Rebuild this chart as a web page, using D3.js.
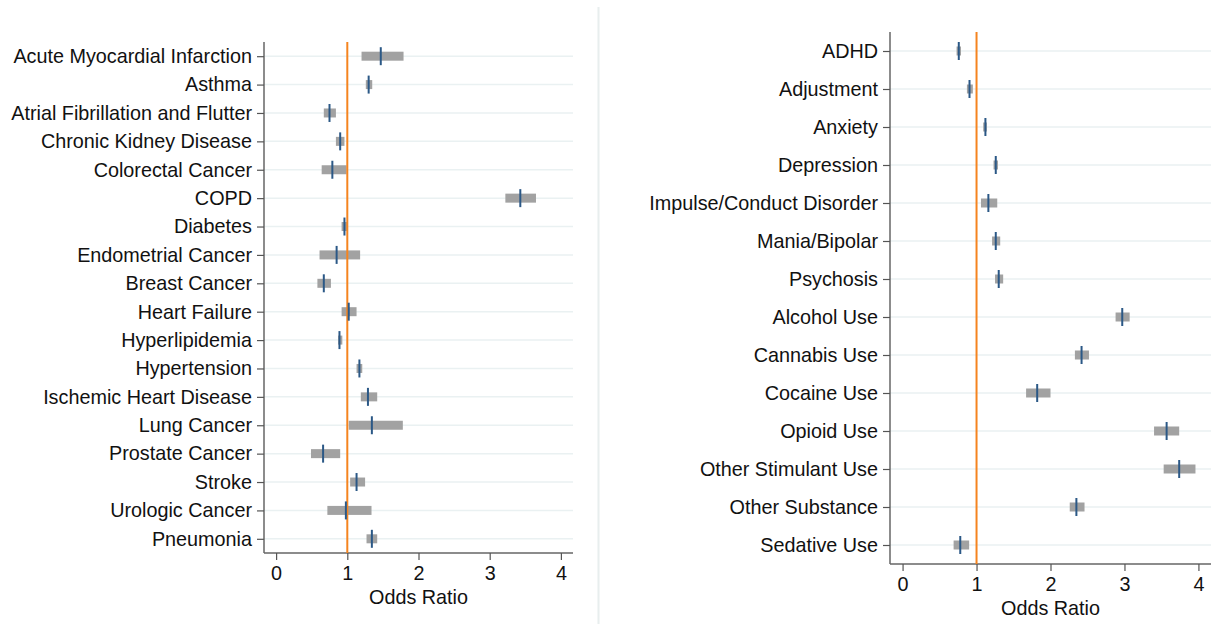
<!DOCTYPE html>
<html>
<head>
<meta charset="utf-8">
<script src="https://cdn.jsdelivr.net/npm/d3@7"></script>
<style>
  body { margin: 0; background: #fff; }
  svg { display: block; font-family: "Liberation Sans", Arial, sans-serif; }
</style>
</head>
<body>
<svg id="chart" width="1225" height="624"></svg>
<script>
// physical conditions (left panel)
const physLabels = ["Acute Myocardial Infarction", "Asthma", "Atrial Fibrillation and Flutter",
  "Chronic Kidney Disease", "Colorectal Cancer", "COPD", "Diabetes", "Endometrial Cancer",
  "Breast Cancer", "Heart Failure", "Hyperlipidemia", "Hypertension", "Ischemic Heart Disease",
  "Lung Cancer", "Prostate Cancer", "Stroke", "Urologic Cancer", "Pneumonia"];
const physOR = [1.47, 1.30, 0.75, 0.90, 0.79, 3.43, 0.96, 0.85, 0.67, 1.02, 0.89, 1.17, 1.29, 1.345, 0.66, 1.13, 0.98, 1.345];
const physLo = [1.20, 1.26, 0.67, 0.84, 0.64, 3.22, 0.92, 0.61, 0.58, 0.92, 0.87, 1.13, 1.19, 1.02, 0.49, 1.04, 0.72, 1.27];
const physHi = [1.79, 1.35, 0.84, 0.96, 0.99, 3.65, 1.00, 1.18, 0.77, 1.13, 0.93, 1.21, 1.42, 1.78, 0.90, 1.25, 1.34, 1.42];

// behavioral conditions (right panel)
const bhLabels = ["ADHD", "Adjustment", "Anxiety", "Depression", "Impulse/Conduct Disorder",
  "Mania/Bipolar", "Psychosis", "Alcohol Use", "Cannabis Use", "Cocaine Use", "Opioid Use",
  "Other Stimulant Use", "Other Substance", "Sedative Use"];
const bhOR = [0.76, 0.905, 1.12, 1.26, 1.16, 1.26, 1.30, 2.97, 2.42, 1.82, 3.57, 3.74, 2.35, 0.78];
const bhLo = [0.73, 0.87, 1.09, 1.23, 1.06, 1.21, 1.25, 2.88, 2.33, 1.67, 3.40, 3.53, 2.26, 0.69];
const bhHi = [0.79, 0.95, 1.14, 1.29, 1.28, 1.32, 1.36, 3.07, 2.52, 2.00, 3.74, 3.96, 2.46, 0.90];

const xTicks = [0, 1, 2, 3, 4];
const xDomain = [-0.17, 4.17];

const svg = d3.select("#chart");

// faint separator between panels
svg.append("line")
  .attr("x1", 598.5).attr("x2", 598.5)
  .attr("y1", 7).attr("y2", 624)
  .style("stroke", "#e8eeee").style("stroke-width", 2);

function drawPanel(opt) {
  const g = svg.append("g");
  const rows = opt.labels.map((d, i) => ({label: d, or: opt.or[i], lo: opt.lo[i], hi: opt.hi[i]}));

  const x = d3.scaleLinear().domain(xDomain).range([opt.left, opt.right]);
  const y = d3.scalePoint().domain(opt.labels).range([opt.top, opt.bottom]).padding(0.5);

  // gridlines
  g.append("g").selectAll("line")
    .data(rows).join("line")
    .attr("x1", opt.left).attr("x2", opt.right)
    .attr("y1", d => y(d.label)).attr("y2", d => y(d.label))
    .style("stroke", "#eaf1f2").style("stroke-width", 1.5);

  // y axis
  const yAxis = g.append("g")
    .attr("transform", `translate(${opt.left},0)`)
    .call(d3.axisLeft(y).tickSize(7).tickPadding(5));
  yAxis.select(".domain").style("stroke", "#666").style("stroke-width", 1.5)
    .attr("d", `M0,${opt.top}V${opt.bottom}`);
  yAxis.selectAll(".tick line").style("stroke", "#555").style("stroke-width", 1.2);
  yAxis.selectAll(".tick text").style("font-size", "19.8px").style("fill", "#111");

  // x axis
  const xAxis = g.append("g")
    .attr("transform", `translate(0,${opt.bottom})`)
    .call(d3.axisBottom(x).tickValues(xTicks).tickFormat(d3.format("d")).tickSize(7).tickPadding(6));
  xAxis.select(".domain").style("stroke", "#666").style("stroke-width", 1.5)
    .attr("d", `M${opt.left},0H${opt.right}`);
  xAxis.selectAll(".tick line").style("stroke", "#555").style("stroke-width", 1.2);
  xAxis.selectAll(".tick text").style("font-size", "19.8px").style("fill", "#111");

  g.append("text")
    .attr("x", (x(0) + x(4)) / 2).attr("y", opt.bottom + 51)
    .attr("text-anchor", "middle")
    .style("font-size", "19.8px").style("fill", "#111")
    .text("Odds Ratio");

  // confidence intervals
  g.append("g").selectAll("rect")
    .data(rows).join("rect")
    .attr("x", d => x(d.lo)).attr("width", d => x(d.hi) - x(d.lo))
    .attr("y", d => y(d.label) - 4.5).attr("height", 9)
    .style("fill", "#a2a2a2");

  // reference line at 1
  g.append("line")
    .attr("x1", x(1)).attr("x2", x(1))
    .attr("y1", opt.top).attr("y2", opt.bottom)
    .style("stroke", "#f5841f").style("stroke-width", 2);

  // point estimates
  g.append("g").selectAll("line")
    .data(rows).join("line")
    .attr("x1", d => x(d.or)).attr("x2", d => x(d.or))
    .attr("y1", d => y(d.label) - 9).attr("y2", d => y(d.label) + 9)
    .style("stroke", "#2b5886").style("stroke-width", 2);
}

drawPanel({labels: physLabels, or: physOR, lo: physLo, hi: physHi,
  left: 264, right: 573, top: 42, bottom: 553});
drawPanel({labels: bhLabels, or: bhOR, lo: bhLo, hi: bhHi,
  left: 890, right: 1211, top: 32, bottom: 564});
</script>
</body>
</html>
